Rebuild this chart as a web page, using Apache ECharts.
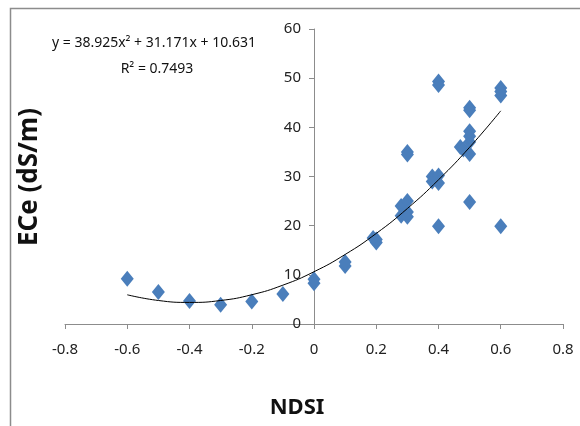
<!DOCTYPE html>
<html>
<head>
<meta charset="utf-8">
<script src="https://cdn.jsdelivr.net/npm/echarts@6/dist/echarts.min.js"></script>
<style>
html,body{margin:0;padding:0;background:#fff;}
#chart{width:580px;height:426px;}
</style>
</head>
<body>
<div id="chart"></div>
<script>
// Observed points: [NDSI, ECe]
const ndsi = [-0.6,-0.5,-0.4,-0.3,-0.2,-0.1,0,0,0.1,0.1,0.2,0.2,0.19,0.28,0.3,0.28,0.3,0.3,0.3,0.3,0.38,0.38,0.4,0.4,0.4,0.4,0.4,0.47,0.48,0.5,0.5,0.5,0.5,0.5,0.5,0.5,0.6,0.6,0.6,0.6];
const ece  = [9.2,6.5,4.7,3.9,4.6,6.1,8.3,9.1,11.8,12.6,16.6,17.2,17.5,24,25,22,22.8,21.8,35,34.5,30,29,30.2,28.7,19.9,49.3,48.6,36,35.5,34.6,37,38.2,39.2,44,43.5,24.8,48,46.5,47.3,19.9];
// Trendline values
const trendX = [-0.6,-0.5,-0.4,-0.3,-0.2,-0.1,0,0.1,0.2,0.3,0.4,0.5,0.6];
const trendY = [5.94,4.78,4.39,4.78,5.95,7.90,10.63,14.14,18.42,23.49,29.33,35.95,43.35];
const xTicks = [-0.8,-0.6,-0.4,-0.2,0,0.2,0.4,0.6,0.8];
const yTicks = [0,10,20,30,40,50,60];
const eqText = 'y = 38.925x\u00B2 + 31.171x + 10.631';
const r2Text = 'R\u00B2 = 0.7493';
const xName = 'NDSI';
const yName = 'ECe (dS/m)';

const FONT = "'Noto Sans', sans-serif";
const chart = echarts.init(document.getElementById('chart'), null, {renderer:'canvas'});
const pts = ndsi.map((x,i)=>[x, ece[i]]);
const trend = trendX.map((x,i)=>[x, trendY[i]]);

const GRID = {left:65, right:17, top:29, bottom:102};
const plotW = 580 - GRID.left - GRID.right;
// y axis crosses the x axis at NDSI = 0 (middle of -0.8..0.8)
const yOffset = -plotW * (0 - xTicks[0]) / (xTicks[xTicks.length-1] - xTicks[0]);

chart.setOption({
  animation:false,
  backgroundColor:'#fff',
  grid:GRID,
  xAxis:{
    type:'value', min:-0.8, max:0.8, interval:0.2,
    axisLine:{show:true, onZero:true, lineStyle:{color:'#8c8c8c'}},
    axisTick:{show:true, inside:false, length:5, lineStyle:{color:'#8c8c8c'}},
    splitLine:{show:false},
    axisLabel:{margin:18, color:'#222', fontFamily:FONT, fontSize:15,
      formatter:v=>{ const t = xTicks.find(k=>Math.abs(k-v)<1e-9); return t===undefined? '' : String(t); }}
  },
  yAxis:{
    type:'value', min:0, max:60, interval:10, offset:yOffset,
    axisLine:{show:true, onZero:false, lineStyle:{color:'#8c8c8c'}},
    axisTick:{show:true, length:5, lineStyle:{color:'#8c8c8c'}},
    splitLine:{show:false},
    axisLabel:{margin:13, color:'#222', fontFamily:FONT, fontSize:15,
      formatter:v=> yTicks.includes(v) ? String(v) : ''}
  },
  series:[
    {type:'scatter', data:pts, symbol:'diamond', symbolSize:[13,16],
     itemStyle:{color:'#4a7ebb', opacity:1}, z:2},
    {type:'line', data:trend, smooth:true, showSymbol:false, symbol:'none',
     lineStyle:{color:'#000', width:1}, z:3}
  ],
  graphic:[
    {type:'rect', shape:{x:10.5, y:8.5, width:600, height:500}, style:{fill:'none', stroke:'#8c8c8c', lineWidth:1.5}, z:-1},
    {type:'text', style:{text:eqText, x:154, y:43, align:'center', verticalAlign:'middle', font:"14px "+FONT, fill:'#111'}},
    {type:'text', style:{text:r2Text, x:157, y:69, align:'center', verticalAlign:'middle', font:"14px "+FONT, fill:'#111'}},
    {type:'text', style:{text:xName, x:297, y:408, align:'center', verticalAlign:'middle', font:"bold 22px "+FONT, fill:'#111'}},
    {type:'text', x:30, y:177, rotation:Math.PI/2, style:{text:yName, x:0, y:0, align:'center', verticalAlign:'middle', font:"bold 26px "+FONT, fill:'#111'}}
  ]
});
</script>
</body>
</html>
